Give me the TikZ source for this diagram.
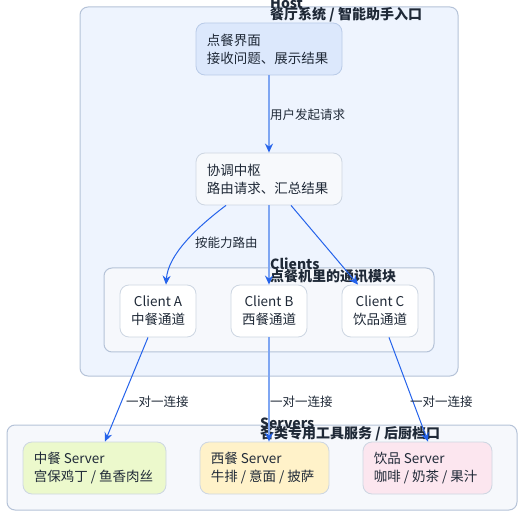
\documentclass[tikz,border=0pt]{standalone}
\usepackage{fontspec}
\setmainfont{Noto Sans CJK SC}
\usetikzlibrary{arrows.meta}
\definecolor{txt}{HTML}{1F2937}
\definecolor{clborder}{HTML}{B5C3D8}
\definecolor{hostfill}{HTML}{EEF4FE}
\definecolor{clfill}{HTML}{F6F8FC}
\definecolor{uifill}{HTML}{DCE8FC}
\definecolor{uiborder}{HTML}{B9CBE8}
\definecolor{nborder}{HTML}{CDD6E2}
\definecolor{hubfill}{HTML}{F7F9FC}
\definecolor{edgeblue}{HTML}{2563EB}
\definecolor{edgelight}{HTML}{7FA6F2}
\definecolor{greenfill}{HTML}{ECF9CC}
\definecolor{yellowfill}{HTML}{FFF2C9}
\definecolor{pinkfill}{HTML}{FCE6EF}
\tikzset{
  cluster/.style={draw=clborder, line width=1pt, rounded corners=8pt},
  clabel/.style={font=\fontsize{14}{14}\selectfont\bfseries, text=txt, inner sep=0pt, anchor=west},
  box/.style={draw=nborder, line width=0.8pt, rounded corners=9pt, minimum height=52pt},
  btext/.style={text=txt, font=\fontsize{13.5}{18}\selectfont, align=left, inner sep=0pt, anchor=west},
  cbox/.style={box, fill=white, minimum width=76pt, text=txt, font=\fontsize{13.5}{18}\selectfont, align=center},
  elabel/.style={font=\fontsize{12.5}{14}\selectfont, text=txt, inner sep=0pt, anchor=west},
  tip/.style={-{Stealth[length=9pt, width=8pt, inset=3pt, color=edgeblue]}},
  thin/.style={tip, draw=edgeblue, line width=1pt},
  thick/.style={tip, draw=edgelight, line width=2pt},
}
\begin{document}
\begin{tikzpicture}[x=1pt, y=-1pt]
\useasboundingbox (0,0) rectangle (531,524);
% clusters
\draw[cluster, fill=hostfill] (80,7) rectangle (458,376);
\draw[cluster, fill=clfill] (104,268) rectangle (434,352);
\draw[cluster, fill=clfill] (7,425) rectangle (517,510);
\node[clabel] (hostA) at (270,3) {Host};
\node[clabel] (hostB) at (270,14.5) {餐厅系统 / 智能助手入口};
\node[clabel] (cliA) at (270,264) {Clients};
\node[clabel] (cliB) at (270,276) {点餐机里的通讯模块};
\node[clabel] (srvA) at (260,423) {Servers};
\node[clabel] (srvB) at (260,434) {各类专用工具服务 / 后厨档口};
% nodes
\node[box, fill=uifill, draw=uiborder, minimum width=146pt] (ui) at (269,49) {};
\node[btext] (uit) at ([xshift=11pt]ui.west) {点餐界面\\接收问题、展示结果};
\node[box, fill=hubfill, minimum width=146pt] (hub) at (269,179) {};
\node[btext] (hubt) at ([xshift=11pt]hub.west) {协调中枢\\路由请求、汇总结果};
\node[cbox] (ca) at (158,311) {Client A\\中餐通道};
\node[cbox] (cb) at (269,311) {Client B\\西餐通道};
\node[cbox] (cc) at (380,311) {Client C\\饮品通道};
\node[box, fill=greenfill, minimum width=143pt] (sa) at (94.5,468) {};
\node[btext] (sat) at ([xshift=11pt]sa.west) {中餐 Server\\宫保鸡丁 / 鱼香肉丝};
\node[box, fill=yellowfill, minimum width=129pt] (sb) at (264.5,468) {};
\node[btext] (sbt) at ([xshift=11pt]sb.west) {西餐 Server\\牛排 / 意面 / 披萨};
\node[box, fill=pinkfill, minimum width=129pt] (sc) at (427.5,468) {};
\node[btext] (sct) at ([xshift=11pt]sc.west) {饮品 Server\\咖啡 / 奶茶 / 果汁};
% edges
\draw[thick] (ui.south) -- (hub.north);
\node[elabel] (l1) at (270,115) {用户发起请求};
\draw[thin] (hub.south -| 226,0) .. controls (196,228) and (168,255) .. (ca.north -| 166,0);
\node[elabel] (l2) at (195,243) {按能力路由};
\draw[thick] (hub.south) -- (cb.north);
\draw[thin] (hub.south -| 291,0) -- (cc.north -| 358,0);
\draw[thin] (ca.south -| 148,0) -- (sa.north -| 105,0);
\draw[thick] (cb.south) -- (sb.north -| 269,0);
\draw[thin] (cc.south -| 389,0) -- (sc.north -| 428,0);
\node[elabel] (l3) at (126,402) {一对一连接};
\node[elabel] (l4) at (270,402) {一对一连接};
\node[elabel] (l5) at (410,402) {一对一连接};
\end{tikzpicture}
\end{document}
